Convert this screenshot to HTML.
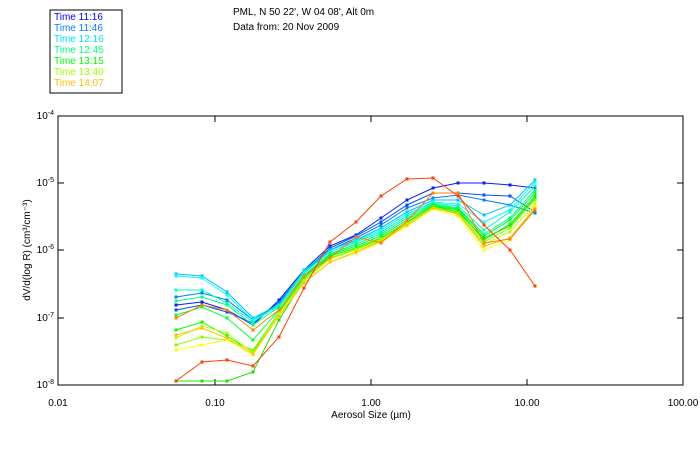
<!DOCTYPE html>
<html><head><style>body{margin:0;background:#fff}svg{display:block}text{font-family:"Liberation Sans",sans-serif;font-size:10px}</style></head><body>
<svg width="700" height="450" xmlns="http://www.w3.org/2000/svg">
<rect width="700" height="450" fill="#fff"/>
<rect x="50" y="10" width="72" height="83" fill="none" stroke="#000"/>
<g font-size="10">
<text x="54" y="20" fill="#0000ff">Time 11:16</text>
<text x="54" y="31" fill="#0080ff">Time 11:46</text>
<text x="54" y="42" fill="#00e0ff">Time 12:16</text>
<text x="54" y="53" fill="#00ff80">Time 12:45</text>
<text x="54" y="64" fill="#00ff00">Time 13:15</text>
<text x="54" y="75" fill="#a0ff00">Time 13:40</text>
<text x="54" y="86" fill="#ffc000">Time 14:07</text>
<text x="233" y="15">PML, N 50 22', W 04 08', Alt 0m</text>
<text x="233" y="30">Data from: 20 Nov 2009</text>
</g>
<rect x="58" y="116" width="625" height="269" fill="none" stroke="#000"/>
<g stroke="#000">
<path d="M215 385v-6M371 385v-6M527 385v-6M215 116v6M371 116v6M527 116v6M58 183h6M58 250h6M58 318h6M683 183h-6M683 250h-6M683 318h-6"/>
</g>
<g font-size="9" text-anchor="middle">
<text x="58" y="406">0.01</text><text x="215" y="406">0.10</text><text x="371" y="406">1.00</text><text x="527" y="406">10.00</text><text x="683" y="406">100.00</text>
<text x="371" y="418">Aerosol Size (µm)</text>
</g>
<g font-size="9" text-anchor="end">
<text x="54" y="119">10<tspan dy="-4" font-size="7">-4</tspan></text>
<text x="54" y="186">10<tspan dy="-4" font-size="7">-5</tspan></text>
<text x="54" y="253">10<tspan dy="-4" font-size="7">-6</tspan></text>
<text x="54" y="321">10<tspan dy="-4" font-size="7">-7</tspan></text>
<text x="54" y="388">10<tspan dy="-4" font-size="7">-8</tspan></text>
</g>
<text x="30" y="250" font-size="9" text-anchor="middle" transform="rotate(-90 30 250)">dV/d(log R) (cm³/cm⁻³)</text>
<g fill="none" stroke-width="1">
<polyline stroke="#0020ff" points="176,305 202,302 227,310 253,325 279,300 304,270 330,246 356,235 381,218 407,200 433,188 458,183 484,183 510,185 535,188"/>
<polyline stroke="#0050ff" points="176,310 202,305 227,312 253,323 279,302 304,272 330,248 356,236 381,222 407,205 433,193 458,193 484,195 510,196 535,212"/>
<polyline stroke="#0080ff" points="176,297 202,293 227,300 253,320 279,303 304,272 330,250 356,238 381,225 407,208 433,198 458,195 484,200 510,205 535,213"/>
<polyline stroke="#00c0ff" points="176,274 202,276 227,292 253,318 279,305 304,270 330,250 356,240 381,228 407,212 433,200 458,200 484,215 510,205 535,180"/>
<polyline stroke="#00ffff" points="176,276 202,278 227,295 253,320 279,306 304,272 330,252 356,241 381,230 407,214 433,202 458,204 484,222 510,210 535,182"/>
<polyline stroke="#00ffc0" points="176,290 202,290 227,303 253,322 279,305 304,273 330,252 356,242 381,232 407,216 433,203 458,206 484,230 510,212 535,186"/>
<polyline stroke="#00ff80" points="176,301 202,297 227,305 253,325 279,307 304,275 330,254 356,244 381,234 407,218 433,204 458,208 484,234 510,218 535,190"/>
<polyline stroke="#00ff40" points="176,315 202,307 227,318 253,340 279,310 304,276 330,255 356,246 381,236 407,220 433,205 458,209 484,236 510,220 535,193"/>
<polyline stroke="#00ff00" points="176,330 202,322 227,336 253,352 279,312 304,278 330,256 356,248 381,238 407,222 433,206 458,210 484,240 510,224 535,196"/>
<polyline stroke="#20e000" points="176,381 202,381 227,381 253,372 279,320 304,280 330,258 356,250 381,240 407,222 433,206 458,212 484,238 510,226 535,198"/>
<polyline stroke="#80ff00" points="176,345 202,337 227,340 253,350 279,313 304,280 330,258 356,249 381,239 407,223 433,207 458,213 484,242 510,228 535,200"/>
<polyline stroke="#c0ff00" points="176,338 202,326 227,333 253,353 279,314 304,281 330,259 356,250 381,240 407,224 433,208 458,214 484,244 510,232 535,204"/>
<polyline stroke="#ffff00" points="176,350 202,345 227,340 253,355 279,315 304,283 330,262 356,253 381,242 407,226 433,209 458,216 484,250 510,240 535,206"/>
<polyline stroke="#ffc000" points="176,335 202,328 227,338 253,354 279,316 304,283 330,262 356,252 381,241 407,225 433,208 458,214 484,246 510,238 535,208"/>
<polyline stroke="#ff8000" points="176,318 202,305 227,310 253,330 279,310 304,276 330,258 356,237 381,243 407,221 433,193 458,193 484,243 510,239 535,210"/>
<polyline stroke="#ff4000" points="176,381 202,362 227,360 253,366 279,337 304,288 330,242 356,222 381,196 407,179 433,178 458,196 484,225 510,250 535,286"/>
</g>
<g fill="none" stroke-width="3" stroke-linecap="square">
<path stroke="#0020ff" d="M176 305h0M202 302h0M227 310h0M253 325h0M279 300h0M304 270h0M330 246h0M356 235h0M381 218h0M407 200h0M433 188h0M458 183h0M484 183h0M510 185h0M535 188h0"/>
<path stroke="#0050ff" d="M176 310h0M202 305h0M227 312h0M253 323h0M279 302h0M304 272h0M330 248h0M356 236h0M381 222h0M407 205h0M433 193h0M458 193h0M484 195h0M510 196h0M535 212h0"/>
<path stroke="#0080ff" d="M176 297h0M202 293h0M227 300h0M253 320h0M279 303h0M304 272h0M330 250h0M356 238h0M381 225h0M407 208h0M433 198h0M458 195h0M484 200h0M510 205h0M535 213h0"/>
<path stroke="#00c0ff" d="M176 274h0M202 276h0M227 292h0M253 318h0M279 305h0M304 270h0M330 250h0M356 240h0M381 228h0M407 212h0M433 200h0M458 200h0M484 215h0M510 205h0M535 180h0"/>
<path stroke="#00ffff" d="M176 276h0M202 278h0M227 295h0M253 320h0M279 306h0M304 272h0M330 252h0M356 241h0M381 230h0M407 214h0M433 202h0M458 204h0M484 222h0M510 210h0M535 182h0"/>
<path stroke="#00ffc0" d="M176 290h0M202 290h0M227 303h0M253 322h0M279 305h0M304 273h0M330 252h0M356 242h0M381 232h0M407 216h0M433 203h0M458 206h0M484 230h0M510 212h0M535 186h0"/>
<path stroke="#00ff80" d="M176 301h0M202 297h0M227 305h0M253 325h0M279 307h0M304 275h0M330 254h0M356 244h0M381 234h0M407 218h0M433 204h0M458 208h0M484 234h0M510 218h0M535 190h0"/>
<path stroke="#00ff40" d="M176 315h0M202 307h0M227 318h0M253 340h0M279 310h0M304 276h0M330 255h0M356 246h0M381 236h0M407 220h0M433 205h0M458 209h0M484 236h0M510 220h0M535 193h0"/>
<path stroke="#00ff00" d="M176 330h0M202 322h0M227 336h0M253 352h0M279 312h0M304 278h0M330 256h0M356 248h0M381 238h0M407 222h0M433 206h0M458 210h0M484 240h0M510 224h0M535 196h0"/>
<path stroke="#20e000" d="M176 381h0M202 381h0M227 381h0M253 372h0M279 320h0M304 280h0M330 258h0M356 250h0M381 240h0M407 222h0M433 206h0M458 212h0M484 238h0M510 226h0M535 198h0"/>
<path stroke="#80ff00" d="M176 345h0M202 337h0M227 340h0M253 350h0M279 313h0M304 280h0M330 258h0M356 249h0M381 239h0M407 223h0M433 207h0M458 213h0M484 242h0M510 228h0M535 200h0"/>
<path stroke="#c0ff00" d="M176 338h0M202 326h0M227 333h0M253 353h0M279 314h0M304 281h0M330 259h0M356 250h0M381 240h0M407 224h0M433 208h0M458 214h0M484 244h0M510 232h0M535 204h0"/>
<path stroke="#ffff00" d="M176 350h0M202 345h0M227 340h0M253 355h0M279 315h0M304 283h0M330 262h0M356 253h0M381 242h0M407 226h0M433 209h0M458 216h0M484 250h0M510 240h0M535 206h0"/>
<path stroke="#ffc000" d="M176 335h0M202 328h0M227 338h0M253 354h0M279 316h0M304 283h0M330 262h0M356 252h0M381 241h0M407 225h0M433 208h0M458 214h0M484 246h0M510 238h0M535 208h0"/>
<path stroke="#ff8000" d="M176 318h0M202 305h0M227 310h0M253 330h0M279 310h0M304 276h0M330 258h0M356 237h0M381 243h0M407 221h0M433 193h0M458 193h0M484 243h0M510 239h0M535 210h0"/>
<path stroke="#ff4000" d="M176 381h0M202 362h0M227 360h0M253 366h0M279 337h0M304 288h0M330 242h0M356 222h0M381 196h0M407 179h0M433 178h0M458 196h0M484 225h0M510 250h0M535 286h0"/>
</g>
</svg>
</body></html>
